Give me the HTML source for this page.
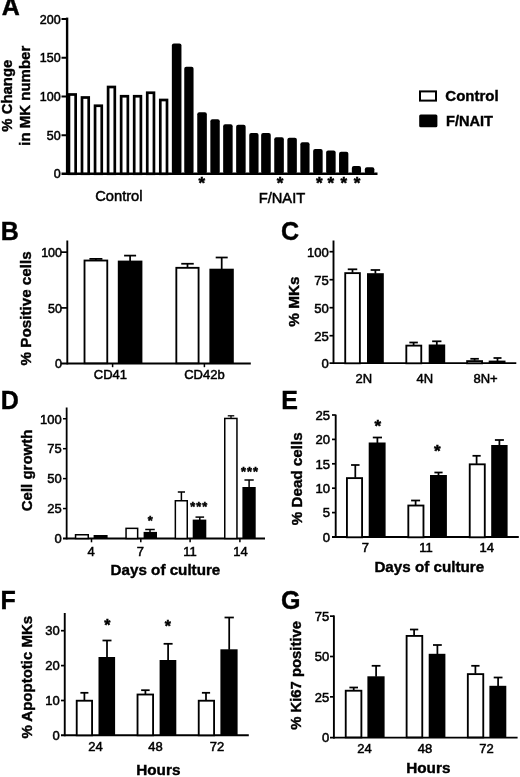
<!DOCTYPE html>
<html lang="en"><head><meta charset="utf-8"><title>Figure</title>
<style>
html,body{margin:0;padding:0;background:#fff;}
body{width:520px;height:777px;overflow:hidden;}
svg{display:block;}
svg text{font-family:"Liberation Sans", Arial, Helvetica, sans-serif;fill:#000;}
</style></head><body>
<svg width="520" height="777" viewBox="0 0 520 777">
<rect x="0" y="0" width="520" height="777" fill="#fff"/>
<text x="1.80" y="15.00" font-size="25" font-weight="bold" text-anchor="start" stroke="#000" stroke-width="0.4" >A</text>
<text x="0.70" y="240.00" font-size="25" font-weight="bold" text-anchor="start" stroke="#000" stroke-width="0.4" >B</text>
<text x="281.00" y="240.20" font-size="25" font-weight="bold" text-anchor="start" stroke="#000" stroke-width="0.4" >C</text>
<text x="0.70" y="409.00" font-size="25" font-weight="bold" text-anchor="start" stroke="#000" stroke-width="0.4" >D</text>
<text x="281.20" y="408.80" font-size="25" font-weight="bold" text-anchor="start" stroke="#000" stroke-width="0.4" >E</text>
<text x="0.40" y="609.00" font-size="25" font-weight="bold" text-anchor="start" stroke="#000" stroke-width="0.4" >F</text>
<text x="281.00" y="609.20" font-size="25" font-weight="bold" text-anchor="start" stroke="#000" stroke-width="0.4" >G</text>
<line x1="67.10" y1="17.60" x2="67.10" y2="174.95" stroke="#000" stroke-width="2.4" stroke-linecap="butt"/>
<line x1="61.50" y1="173.75" x2="377.50" y2="173.75" stroke="#000" stroke-width="2.4" stroke-linecap="butt"/>
<line x1="61.50" y1="19.00" x2="67.10" y2="19.00" stroke="#000" stroke-width="2.0" stroke-linecap="butt"/>
<text x="60.70" y="23.60" font-size="12.5" font-weight="normal" text-anchor="end" stroke="#000" stroke-width="0.5" >200</text>
<line x1="61.50" y1="57.75" x2="67.10" y2="57.75" stroke="#000" stroke-width="2.0" stroke-linecap="butt"/>
<text x="60.70" y="62.35" font-size="12.5" font-weight="normal" text-anchor="end" stroke="#000" stroke-width="0.5" >150</text>
<line x1="61.50" y1="96.50" x2="67.10" y2="96.50" stroke="#000" stroke-width="2.0" stroke-linecap="butt"/>
<text x="60.70" y="101.10" font-size="12.5" font-weight="normal" text-anchor="end" stroke="#000" stroke-width="0.5" >100</text>
<line x1="61.50" y1="135.25" x2="67.10" y2="135.25" stroke="#000" stroke-width="2.0" stroke-linecap="butt"/>
<text x="60.70" y="139.85" font-size="12.5" font-weight="normal" text-anchor="end" stroke="#000" stroke-width="0.5" >50</text>
<text x="60.70" y="178.35" font-size="12.5" font-weight="normal" text-anchor="end" stroke="#000" stroke-width="0.5" >0</text>
<rect x="68.95" y="94.50" width="6.70" height="79.25" fill="#fff" stroke="#000" stroke-width="2.7"/>
<rect x="82.00" y="97.50" width="6.70" height="76.25" fill="#fff" stroke="#000" stroke-width="2.7"/>
<rect x="95.05" y="105.75" width="6.70" height="68.00" fill="#fff" stroke="#000" stroke-width="2.7"/>
<rect x="108.10" y="87.00" width="6.70" height="86.75" fill="#fff" stroke="#000" stroke-width="2.7"/>
<rect x="121.15" y="96.25" width="6.70" height="77.50" fill="#fff" stroke="#000" stroke-width="2.7"/>
<rect x="134.20" y="96.25" width="6.70" height="77.50" fill="#fff" stroke="#000" stroke-width="2.7"/>
<rect x="147.25" y="92.75" width="6.70" height="81.00" fill="#fff" stroke="#000" stroke-width="2.7"/>
<rect x="160.30" y="100.00" width="6.70" height="73.75" fill="#fff" stroke="#000" stroke-width="2.7"/>
<rect x="171.85" y="43.55" width="9.60" height="130.20" fill="#000" rx="2"/>
<rect x="184.25" y="66.80" width="9.30" height="106.95" fill="#000" rx="2"/>
<rect x="197.25" y="112.30" width="9.60" height="61.45" fill="#000" rx="2"/>
<rect x="210.35" y="119.30" width="9.40" height="54.45" fill="#000" rx="2"/>
<rect x="223.15" y="124.30" width="9.50" height="49.45" fill="#000" rx="2"/>
<rect x="236.15" y="124.80" width="9.50" height="48.95" fill="#000" rx="2"/>
<rect x="249.25" y="133.05" width="9.30" height="40.70" fill="#000" rx="2"/>
<rect x="261.15" y="133.05" width="9.60" height="40.70" fill="#000" rx="2"/>
<rect x="274.25" y="137.30" width="9.60" height="36.45" fill="#000" rx="2"/>
<rect x="287.35" y="137.80" width="9.50" height="35.95" fill="#000" rx="2"/>
<rect x="300.35" y="142.30" width="9.20" height="31.45" fill="#000" rx="2"/>
<rect x="313.15" y="149.05" width="9.50" height="24.70" fill="#000" rx="2"/>
<rect x="326.15" y="150.55" width="9.50" height="23.20" fill="#000" rx="2"/>
<rect x="339.05" y="151.80" width="9.30" height="21.95" fill="#000" rx="2"/>
<rect x="351.85" y="166.05" width="9.20" height="7.70" fill="#000" rx="2"/>
<rect x="364.85" y="167.30" width="9.50" height="6.45" fill="#000" rx="2"/>
<text x="201.30" y="189.36" font-size="17" font-weight="bold" text-anchor="middle" letter-spacing="-0.9" stroke="#000" stroke-width="0.5">*</text>
<text x="279.55" y="189.36" font-size="17" font-weight="bold" text-anchor="middle" letter-spacing="-0.9" stroke="#000" stroke-width="0.5">*</text>
<text x="318.85" y="189.36" font-size="17" font-weight="bold" text-anchor="middle" letter-spacing="-0.9" stroke="#000" stroke-width="0.5">*</text>
<text x="330.45" y="189.36" font-size="17" font-weight="bold" text-anchor="middle" letter-spacing="-0.9" stroke="#000" stroke-width="0.5">*</text>
<text x="343.45" y="189.36" font-size="17" font-weight="bold" text-anchor="middle" letter-spacing="-0.9" stroke="#000" stroke-width="0.5">*</text>
<text x="356.65" y="189.36" font-size="17" font-weight="bold" text-anchor="middle" letter-spacing="-0.9" stroke="#000" stroke-width="0.5">*</text>
<text x="95.20" y="201.30" font-size="14.7" font-weight="normal" text-anchor="start" stroke="#000" stroke-width="0.5" >Control</text>
<text x="258.70" y="203.30" font-size="14.7" font-weight="normal" text-anchor="start" stroke="#000" stroke-width="0.5" >F/NAIT</text>
<text transform="translate(12.20,95.70) rotate(-90)" font-size="14.9" font-weight="bold" text-anchor="middle" stroke="#000" stroke-width="0.4" xml:space="preserve">% Change</text>
<text transform="translate(30.30,95.70) rotate(-90)" font-size="15" font-weight="bold" text-anchor="middle" stroke="#000" stroke-width="0.4" xml:space="preserve">in MK number</text>
<rect x="420" y="91.4" width="16" height="9.2" fill="#fff" stroke="#000" stroke-width="2"/>
<rect x="419.2" y="114.4" width="18.2" height="12.8" fill="#000" rx="1.5"/>
<text x="445.30" y="100.60" font-size="15" font-weight="bold" text-anchor="start" stroke="#000" stroke-width="0.4" >Control</text>
<text x="446.00" y="126.30" font-size="14.6" font-weight="bold" text-anchor="start" stroke="#000" stroke-width="0.4" >F/NAIT</text>
<line x1="67.30" y1="240.50" x2="67.30" y2="364.40" stroke="#000" stroke-width="1.9" stroke-linecap="butt"/>
<line x1="61.00" y1="363.45" x2="250.80" y2="363.45" stroke="#000" stroke-width="1.9" stroke-linecap="butt"/>
<line x1="61.00" y1="252.15" x2="67.30" y2="252.15" stroke="#000" stroke-width="1.7" stroke-linecap="butt"/>
<text x="62.00" y="256.75" font-size="12.5" font-weight="normal" text-anchor="end" stroke="#000" stroke-width="0.5" >100</text>
<line x1="61.00" y1="307.90" x2="67.30" y2="307.90" stroke="#000" stroke-width="1.7" stroke-linecap="butt"/>
<text x="62.00" y="312.50" font-size="12.5" font-weight="normal" text-anchor="end" stroke="#000" stroke-width="0.5" >50</text>
<text x="62.00" y="368.05" font-size="12.5" font-weight="normal" text-anchor="end" stroke="#000" stroke-width="0.5" >0</text>
<rect x="84.52" y="260.53" width="22.75" height="102.72" fill="#fff" stroke="#000" stroke-width="1.85"/>
<line x1="95.90" y1="258.90" x2="95.90" y2="260.10" stroke="#000" stroke-width="1.75" stroke-linecap="butt"/>
<line x1="89.40" y1="258.90" x2="102.40" y2="258.90" stroke="#000" stroke-width="1.75" stroke-linecap="butt"/>
<rect x="117.80" y="260.60" width="24.60" height="102.65" fill="#000" rx="0"/>
<line x1="130.10" y1="255.60" x2="130.10" y2="261.10" stroke="#000" stroke-width="1.75" stroke-linecap="butt"/>
<line x1="124.10" y1="255.60" x2="136.10" y2="255.60" stroke="#000" stroke-width="1.75" stroke-linecap="butt"/>
<rect x="176.33" y="267.82" width="22.25" height="95.43" fill="#fff" stroke="#000" stroke-width="1.85"/>
<line x1="187.50" y1="263.75" x2="187.50" y2="267.40" stroke="#000" stroke-width="1.75" stroke-linecap="butt"/>
<line x1="181.25" y1="263.75" x2="193.75" y2="263.75" stroke="#000" stroke-width="1.75" stroke-linecap="butt"/>
<rect x="209.40" y="268.70" width="24.40" height="94.55" fill="#000" rx="0"/>
<line x1="221.70" y1="257.50" x2="221.70" y2="269.20" stroke="#000" stroke-width="1.75" stroke-linecap="butt"/>
<line x1="215.70" y1="257.50" x2="227.70" y2="257.50" stroke="#000" stroke-width="1.75" stroke-linecap="butt"/>
<line x1="112.60" y1="363.25" x2="112.60" y2="367.20" stroke="#000" stroke-width="1.5" stroke-linecap="butt"/>
<line x1="204.40" y1="363.25" x2="204.40" y2="367.20" stroke="#000" stroke-width="1.5" stroke-linecap="butt"/>
<text x="110.40" y="379.20" font-size="13" font-weight="normal" text-anchor="middle" stroke="#000" stroke-width="0.5" >CD41</text>
<text x="204.40" y="378.80" font-size="13" font-weight="normal" text-anchor="middle" stroke="#000" stroke-width="0.5" >CD42b</text>
<text transform="translate(30.50,308.40) rotate(-90)" font-size="15.2" font-weight="bold" text-anchor="middle" stroke="#000" stroke-width="0.4" xml:space="preserve">% Positive cells</text>
<line x1="333.50" y1="240.50" x2="333.50" y2="364.05" stroke="#000" stroke-width="1.9" stroke-linecap="butt"/>
<line x1="329.50" y1="363.10" x2="516.30" y2="363.10" stroke="#000" stroke-width="1.9" stroke-linecap="butt"/>
<line x1="329.50" y1="251.70" x2="333.50" y2="251.70" stroke="#000" stroke-width="1.7" stroke-linecap="butt"/>
<text x="328.80" y="256.52" font-size="13.1" font-weight="normal" text-anchor="end" stroke="#000" stroke-width="0.5" >100</text>
<line x1="329.50" y1="279.70" x2="333.50" y2="279.70" stroke="#000" stroke-width="1.7" stroke-linecap="butt"/>
<text x="328.80" y="284.52" font-size="13.1" font-weight="normal" text-anchor="end" stroke="#000" stroke-width="0.5" >75</text>
<line x1="329.50" y1="307.70" x2="333.50" y2="307.70" stroke="#000" stroke-width="1.7" stroke-linecap="butt"/>
<text x="328.80" y="312.52" font-size="13.1" font-weight="normal" text-anchor="end" stroke="#000" stroke-width="0.5" >50</text>
<line x1="329.50" y1="335.70" x2="333.50" y2="335.70" stroke="#000" stroke-width="1.7" stroke-linecap="butt"/>
<text x="328.80" y="340.52" font-size="13.1" font-weight="normal" text-anchor="end" stroke="#000" stroke-width="0.5" >25</text>
<text x="328.80" y="367.92" font-size="13.1" font-weight="normal" text-anchor="end" stroke="#000" stroke-width="0.5" >0</text>
<rect x="345.23" y="273.12" width="14.65" height="90.18" fill="#fff" stroke="#000" stroke-width="1.85"/>
<line x1="352.50" y1="269.30" x2="352.50" y2="272.70" stroke="#000" stroke-width="1.75" stroke-linecap="butt"/>
<line x1="347.75" y1="269.30" x2="357.25" y2="269.30" stroke="#000" stroke-width="1.75" stroke-linecap="butt"/>
<rect x="367.00" y="273.20" width="16.80" height="90.10" fill="#000" rx="0"/>
<line x1="375.40" y1="270.00" x2="375.40" y2="273.70" stroke="#000" stroke-width="1.75" stroke-linecap="butt"/>
<line x1="370.65" y1="270.00" x2="380.15" y2="270.00" stroke="#000" stroke-width="1.75" stroke-linecap="butt"/>
<rect x="406.32" y="345.62" width="14.95" height="17.68" fill="#fff" stroke="#000" stroke-width="1.85"/>
<line x1="413.60" y1="342.50" x2="413.60" y2="345.20" stroke="#000" stroke-width="1.75" stroke-linecap="butt"/>
<line x1="409.35" y1="342.50" x2="417.85" y2="342.50" stroke="#000" stroke-width="1.75" stroke-linecap="butt"/>
<rect x="428.70" y="344.50" width="16.50" height="18.80" fill="#000" rx="0"/>
<line x1="436.80" y1="341.30" x2="436.80" y2="345.00" stroke="#000" stroke-width="1.75" stroke-linecap="butt"/>
<line x1="432.15" y1="341.30" x2="441.45" y2="341.30" stroke="#000" stroke-width="1.75" stroke-linecap="butt"/>
<rect x="467.12" y="361.12" width="14.95" height="2.18" fill="#fff" stroke="#000" stroke-width="1.85"/>
<line x1="474.60" y1="358.80" x2="474.60" y2="360.70" stroke="#000" stroke-width="1.75" stroke-linecap="butt"/>
<line x1="470.35" y1="358.80" x2="478.85" y2="358.80" stroke="#000" stroke-width="1.75" stroke-linecap="butt"/>
<rect x="488.70" y="360.60" width="16.80" height="2.70" fill="#000" rx="0"/>
<line x1="497.50" y1="358.00" x2="497.50" y2="361.10" stroke="#000" stroke-width="1.75" stroke-linecap="butt"/>
<line x1="493.50" y1="358.00" x2="501.50" y2="358.00" stroke="#000" stroke-width="1.75" stroke-linecap="butt"/>
<text x="363.90" y="383.20" font-size="13" font-weight="normal" text-anchor="middle" stroke="#000" stroke-width="0.5" >2N</text>
<text x="424.80" y="382.60" font-size="13" font-weight="normal" text-anchor="middle" stroke="#000" stroke-width="0.5" >4N</text>
<text x="485.60" y="382.60" font-size="13" font-weight="normal" text-anchor="middle" stroke="#000" stroke-width="0.5" >8N+</text>
<text transform="translate(299.20,301.60) rotate(-90)" font-size="15.3" font-weight="bold" text-anchor="middle" stroke="#000" stroke-width="0.4" xml:space="preserve">% MKs</text>
<line x1="66.65" y1="407.50" x2="66.65" y2="539.40" stroke="#000" stroke-width="1.8" stroke-linecap="butt"/>
<line x1="63.00" y1="538.50" x2="265.00" y2="538.50" stroke="#000" stroke-width="1.8" stroke-linecap="butt"/>
<line x1="63.00" y1="418.75" x2="66.65" y2="418.75" stroke="#000" stroke-width="1.5" stroke-linecap="butt"/>
<text x="61.80" y="423.53" font-size="13" font-weight="normal" text-anchor="end" stroke="#000" stroke-width="0.5" >100</text>
<line x1="63.00" y1="448.69" x2="66.65" y2="448.69" stroke="#000" stroke-width="1.5" stroke-linecap="butt"/>
<text x="61.80" y="453.47" font-size="13" font-weight="normal" text-anchor="end" stroke="#000" stroke-width="0.5" >75</text>
<line x1="63.00" y1="478.62" x2="66.65" y2="478.62" stroke="#000" stroke-width="1.5" stroke-linecap="butt"/>
<text x="61.80" y="483.41" font-size="13" font-weight="normal" text-anchor="end" stroke="#000" stroke-width="0.5" >50</text>
<line x1="63.00" y1="508.56" x2="66.65" y2="508.56" stroke="#000" stroke-width="1.5" stroke-linecap="butt"/>
<text x="61.80" y="513.34" font-size="13" font-weight="normal" text-anchor="end" stroke="#000" stroke-width="0.5" >25</text>
<text x="61.80" y="543.28" font-size="13" font-weight="normal" text-anchor="end" stroke="#000" stroke-width="0.5" >0</text>
<rect x="75.55" y="534.75" width="12.70" height="3.75" fill="#fff" stroke="#000" stroke-width="1.5"/>
<rect x="93.60" y="535.00" width="14.00" height="3.50" fill="#000" rx="0"/>
<rect x="126.05" y="528.35" width="11.60" height="10.15" fill="#fff" stroke="#000" stroke-width="1.5"/>
<rect x="143.60" y="531.90" width="13.40" height="6.60" fill="#000" rx="0"/>
<line x1="150.00" y1="529.50" x2="150.00" y2="532.40" stroke="#000" stroke-width="1.5" stroke-linecap="butt"/>
<line x1="145.25" y1="529.50" x2="154.75" y2="529.50" stroke="#000" stroke-width="1.5" stroke-linecap="butt"/>
<rect x="175.35" y="500.75" width="11.90" height="37.75" fill="#fff" stroke="#000" stroke-width="1.5"/>
<line x1="181.40" y1="492.00" x2="181.40" y2="500.50" stroke="#000" stroke-width="1.5" stroke-linecap="butt"/>
<line x1="177.80" y1="492.00" x2="185.00" y2="492.00" stroke="#000" stroke-width="1.5" stroke-linecap="butt"/>
<rect x="192.70" y="519.60" width="13.60" height="18.90" fill="#000" rx="0"/>
<line x1="199.80" y1="517.10" x2="199.80" y2="520.10" stroke="#000" stroke-width="1.5" stroke-linecap="butt"/>
<line x1="195.50" y1="517.10" x2="204.10" y2="517.10" stroke="#000" stroke-width="1.5" stroke-linecap="butt"/>
<rect x="224.75" y="418.45" width="12.20" height="120.05" fill="#fff" stroke="#000" stroke-width="1.5"/>
<line x1="231.00" y1="415.80" x2="231.00" y2="418.20" stroke="#000" stroke-width="1.3" stroke-linecap="butt"/>
<line x1="227.75" y1="415.80" x2="234.25" y2="415.80" stroke="#000" stroke-width="1.3" stroke-linecap="butt"/>
<rect x="242.40" y="487.00" width="13.30" height="51.50" fill="#000" rx="0"/>
<line x1="249.10" y1="480.00" x2="249.10" y2="487.50" stroke="#000" stroke-width="1.5" stroke-linecap="butt"/>
<line x1="244.45" y1="480.00" x2="253.75" y2="480.00" stroke="#000" stroke-width="1.5" stroke-linecap="butt"/>
<line x1="91.50" y1="538.50" x2="91.50" y2="542.30" stroke="#000" stroke-width="1.5" stroke-linecap="butt"/>
<line x1="140.80" y1="538.50" x2="140.80" y2="542.30" stroke="#000" stroke-width="1.5" stroke-linecap="butt"/>
<line x1="190.10" y1="538.50" x2="190.10" y2="542.30" stroke="#000" stroke-width="1.5" stroke-linecap="butt"/>
<line x1="239.90" y1="538.50" x2="239.90" y2="542.30" stroke="#000" stroke-width="1.5" stroke-linecap="butt"/>
<text x="91.00" y="556.30" font-size="13" font-weight="normal" text-anchor="middle" stroke="#000" stroke-width="0.5" >4</text>
<text x="140.40" y="556.30" font-size="13" font-weight="normal" text-anchor="middle" stroke="#000" stroke-width="0.5" >7</text>
<text x="190.00" y="556.30" font-size="13" font-weight="normal" text-anchor="middle" stroke="#000" stroke-width="0.5" >11</text>
<text x="240.40" y="556.30" font-size="13" font-weight="normal" text-anchor="middle" stroke="#000" stroke-width="0.5" >14</text>
<text x="149.85" y="525.06" font-size="12.8" font-weight="bold" text-anchor="middle" letter-spacing="-0.9" stroke="#000" stroke-width="0.5">*</text>
<text x="199.20" y="511.16" font-size="12.8" font-weight="bold" text-anchor="middle" letter-spacing="1.0" stroke="#000" stroke-width="0.5">***</text>
<text x="250.10" y="475.76" font-size="12.8" font-weight="bold" text-anchor="middle" letter-spacing="1.0" stroke="#000" stroke-width="0.5">***</text>
<text x="110.60" y="574.50" font-size="15.2" font-weight="bold" text-anchor="start" stroke="#000" stroke-width="0.4" >Days of culture</text>
<text transform="translate(31.80,470.40) rotate(-90)" font-size="15" font-weight="bold" text-anchor="middle" stroke="#000" stroke-width="0.4" xml:space="preserve">Cell growth</text>
<line x1="335.70" y1="414.60" x2="335.70" y2="537.95" stroke="#000" stroke-width="1.9" stroke-linecap="butt"/>
<line x1="332.00" y1="537.00" x2="518.80" y2="537.00" stroke="#000" stroke-width="1.9" stroke-linecap="butt"/>
<line x1="332.00" y1="415.00" x2="335.70" y2="415.00" stroke="#000" stroke-width="1.7" stroke-linecap="butt"/>
<text x="330.00" y="419.82" font-size="13.1" font-weight="normal" text-anchor="end" stroke="#000" stroke-width="0.5" >25</text>
<line x1="332.00" y1="439.40" x2="335.70" y2="439.40" stroke="#000" stroke-width="1.7" stroke-linecap="butt"/>
<text x="330.00" y="444.22" font-size="13.1" font-weight="normal" text-anchor="end" stroke="#000" stroke-width="0.5" >20</text>
<line x1="332.00" y1="463.80" x2="335.70" y2="463.80" stroke="#000" stroke-width="1.7" stroke-linecap="butt"/>
<text x="330.00" y="468.62" font-size="13.1" font-weight="normal" text-anchor="end" stroke="#000" stroke-width="0.5" >15</text>
<line x1="332.00" y1="488.20" x2="335.70" y2="488.20" stroke="#000" stroke-width="1.7" stroke-linecap="butt"/>
<text x="330.00" y="493.02" font-size="13.1" font-weight="normal" text-anchor="end" stroke="#000" stroke-width="0.5" >10</text>
<line x1="332.00" y1="512.60" x2="335.70" y2="512.60" stroke="#000" stroke-width="1.7" stroke-linecap="butt"/>
<text x="330.00" y="517.42" font-size="13.1" font-weight="normal" text-anchor="end" stroke="#000" stroke-width="0.5" >5</text>
<text x="330.00" y="541.82" font-size="13.1" font-weight="normal" text-anchor="end" stroke="#000" stroke-width="0.5" >0</text>
<rect x="346.93" y="478.12" width="15.15" height="59.17" fill="#fff" stroke="#000" stroke-width="1.85"/>
<line x1="355.30" y1="465.00" x2="355.30" y2="477.70" stroke="#000" stroke-width="1.75" stroke-linecap="butt"/>
<line x1="351.05" y1="465.00" x2="359.55" y2="465.00" stroke="#000" stroke-width="1.75" stroke-linecap="butt"/>
<rect x="368.70" y="442.50" width="16.90" height="94.80" fill="#000" rx="0"/>
<line x1="377.40" y1="437.50" x2="377.40" y2="443.00" stroke="#000" stroke-width="1.75" stroke-linecap="butt"/>
<line x1="372.80" y1="437.50" x2="382.00" y2="437.50" stroke="#000" stroke-width="1.75" stroke-linecap="butt"/>
<rect x="408.32" y="505.53" width="15.15" height="31.77" fill="#fff" stroke="#000" stroke-width="1.85"/>
<line x1="415.60" y1="500.50" x2="415.60" y2="505.10" stroke="#000" stroke-width="1.75" stroke-linecap="butt"/>
<line x1="411.10" y1="500.50" x2="420.10" y2="500.50" stroke="#000" stroke-width="1.75" stroke-linecap="butt"/>
<rect x="430.00" y="475.00" width="16.90" height="62.30" fill="#000" rx="0"/>
<line x1="438.50" y1="472.50" x2="438.50" y2="475.50" stroke="#000" stroke-width="1.75" stroke-linecap="butt"/>
<line x1="434.40" y1="472.50" x2="442.60" y2="472.50" stroke="#000" stroke-width="1.75" stroke-linecap="butt"/>
<rect x="469.73" y="464.32" width="15.05" height="72.97" fill="#fff" stroke="#000" stroke-width="1.85"/>
<line x1="476.60" y1="455.80" x2="476.60" y2="463.90" stroke="#000" stroke-width="1.75" stroke-linecap="butt"/>
<line x1="472.50" y1="455.80" x2="480.70" y2="455.80" stroke="#000" stroke-width="1.75" stroke-linecap="butt"/>
<rect x="491.20" y="445.00" width="16.40" height="92.30" fill="#000" rx="0"/>
<line x1="499.40" y1="440.00" x2="499.40" y2="445.50" stroke="#000" stroke-width="1.75" stroke-linecap="butt"/>
<line x1="494.90" y1="440.00" x2="503.90" y2="440.00" stroke="#000" stroke-width="1.75" stroke-linecap="butt"/>
<text x="377.35" y="431.91" font-size="17" font-weight="bold" text-anchor="middle" letter-spacing="-0.9" stroke="#000" stroke-width="0.5">*</text>
<text x="436.75" y="456.51" font-size="17" font-weight="bold" text-anchor="middle" letter-spacing="-0.9" stroke="#000" stroke-width="0.5">*</text>
<text x="365.40" y="552.20" font-size="13" font-weight="normal" text-anchor="middle" stroke="#000" stroke-width="0.5" >7</text>
<text x="426.00" y="552.40" font-size="13" font-weight="normal" text-anchor="middle" stroke="#000" stroke-width="0.5" >11</text>
<text x="486.80" y="552.40" font-size="13" font-weight="normal" text-anchor="middle" stroke="#000" stroke-width="0.5" >14</text>
<text x="374.40" y="572.30" font-size="15.2" font-weight="bold" text-anchor="start" stroke="#000" stroke-width="0.4" >Days of culture</text>
<text transform="translate(301.60,478.80) rotate(-90)" font-size="15.2" font-weight="bold" text-anchor="middle" stroke="#000" stroke-width="0.4" xml:space="preserve">% Dead cells</text>
<line x1="64.75" y1="613.00" x2="64.75" y2="736.25" stroke="#000" stroke-width="1.9" stroke-linecap="butt"/>
<line x1="61.00" y1="735.30" x2="248.80" y2="735.30" stroke="#000" stroke-width="1.9" stroke-linecap="butt"/>
<line x1="61.00" y1="630.70" x2="64.75" y2="630.70" stroke="#000" stroke-width="1.7" stroke-linecap="butt"/>
<text x="59.80" y="635.48" font-size="13" font-weight="normal" text-anchor="end" stroke="#000" stroke-width="0.5" >30</text>
<line x1="61.00" y1="665.60" x2="64.75" y2="665.60" stroke="#000" stroke-width="1.7" stroke-linecap="butt"/>
<text x="59.80" y="670.38" font-size="13" font-weight="normal" text-anchor="end" stroke="#000" stroke-width="0.5" >20</text>
<line x1="61.00" y1="700.50" x2="64.75" y2="700.50" stroke="#000" stroke-width="1.7" stroke-linecap="butt"/>
<text x="59.80" y="705.28" font-size="13" font-weight="normal" text-anchor="end" stroke="#000" stroke-width="0.5" >10</text>
<text x="59.80" y="740.08" font-size="13" font-weight="normal" text-anchor="end" stroke="#000" stroke-width="0.5" >0</text>
<rect x="76.72" y="700.72" width="15.35" height="34.58" fill="#fff" stroke="#000" stroke-width="1.85"/>
<line x1="84.40" y1="692.80" x2="84.40" y2="700.30" stroke="#000" stroke-width="1.75" stroke-linecap="butt"/>
<line x1="80.40" y1="692.80" x2="88.40" y2="692.80" stroke="#000" stroke-width="1.75" stroke-linecap="butt"/>
<rect x="98.50" y="657.00" width="16.60" height="78.30" fill="#000" rx="0"/>
<line x1="107.00" y1="640.50" x2="107.00" y2="657.50" stroke="#000" stroke-width="1.75" stroke-linecap="butt"/>
<line x1="102.50" y1="640.50" x2="111.50" y2="640.50" stroke="#000" stroke-width="1.75" stroke-linecap="butt"/>
<rect x="137.53" y="694.52" width="15.55" height="40.77" fill="#fff" stroke="#000" stroke-width="1.85"/>
<line x1="145.40" y1="690.20" x2="145.40" y2="694.10" stroke="#000" stroke-width="1.75" stroke-linecap="butt"/>
<line x1="141.15" y1="690.20" x2="149.65" y2="690.20" stroke="#000" stroke-width="1.75" stroke-linecap="butt"/>
<rect x="159.60" y="660.00" width="16.70" height="75.30" fill="#000" rx="0"/>
<line x1="168.10" y1="643.80" x2="168.10" y2="660.50" stroke="#000" stroke-width="1.75" stroke-linecap="butt"/>
<line x1="163.60" y1="643.80" x2="172.60" y2="643.80" stroke="#000" stroke-width="1.75" stroke-linecap="butt"/>
<rect x="198.73" y="700.72" width="15.35" height="34.58" fill="#fff" stroke="#000" stroke-width="1.85"/>
<line x1="206.00" y1="692.80" x2="206.00" y2="700.30" stroke="#000" stroke-width="1.75" stroke-linecap="butt"/>
<line x1="201.90" y1="692.80" x2="210.10" y2="692.80" stroke="#000" stroke-width="1.75" stroke-linecap="butt"/>
<rect x="220.40" y="649.30" width="17.20" height="86.00" fill="#000" rx="0"/>
<line x1="229.20" y1="617.50" x2="229.20" y2="649.80" stroke="#000" stroke-width="1.75" stroke-linecap="butt"/>
<line x1="224.55" y1="617.50" x2="233.85" y2="617.50" stroke="#000" stroke-width="1.75" stroke-linecap="butt"/>
<text x="106.95" y="630.60" font-size="15.8" font-weight="bold" text-anchor="middle" letter-spacing="-0.9" stroke="#000" stroke-width="0.5">*</text>
<text x="167.25" y="631.70" font-size="15.8" font-weight="bold" text-anchor="middle" letter-spacing="-0.9" stroke="#000" stroke-width="0.5">*</text>
<text x="95.40" y="750.80" font-size="13" font-weight="normal" text-anchor="middle" stroke="#000" stroke-width="0.5" >24</text>
<text x="155.60" y="750.80" font-size="13" font-weight="normal" text-anchor="middle" stroke="#000" stroke-width="0.5" >48</text>
<text x="216.90" y="750.80" font-size="13" font-weight="normal" text-anchor="middle" stroke="#000" stroke-width="0.5" >72</text>
<text x="136.20" y="775.00" font-size="15.3" font-weight="bold" text-anchor="start" stroke="#000" stroke-width="0.4" >Hours</text>
<text transform="translate(31.80,677.20) rotate(-90)" font-size="15" font-weight="bold" text-anchor="middle" stroke="#000" stroke-width="0.4" xml:space="preserve">% Apoptotic MKs</text>
<line x1="333.90" y1="615.40" x2="333.90" y2="738.60" stroke="#000" stroke-width="1.9" stroke-linecap="butt"/>
<line x1="330.00" y1="737.65" x2="517.60" y2="737.65" stroke="#000" stroke-width="1.9" stroke-linecap="butt"/>
<line x1="330.00" y1="616.15" x2="333.90" y2="616.15" stroke="#000" stroke-width="1.7" stroke-linecap="butt"/>
<text x="329.30" y="620.93" font-size="13" font-weight="normal" text-anchor="end" stroke="#000" stroke-width="0.5" >75</text>
<line x1="330.00" y1="656.50" x2="333.90" y2="656.50" stroke="#000" stroke-width="1.7" stroke-linecap="butt"/>
<text x="329.30" y="661.28" font-size="13" font-weight="normal" text-anchor="end" stroke="#000" stroke-width="0.5" >50</text>
<line x1="330.00" y1="696.85" x2="333.90" y2="696.85" stroke="#000" stroke-width="1.7" stroke-linecap="butt"/>
<text x="329.30" y="701.63" font-size="13" font-weight="normal" text-anchor="end" stroke="#000" stroke-width="0.5" >25</text>
<text x="329.30" y="742.43" font-size="13" font-weight="normal" text-anchor="end" stroke="#000" stroke-width="0.5" >0</text>
<rect x="345.73" y="690.72" width="15.65" height="46.68" fill="#fff" stroke="#000" stroke-width="1.85"/>
<line x1="353.70" y1="687.50" x2="353.70" y2="690.30" stroke="#000" stroke-width="1.75" stroke-linecap="butt"/>
<line x1="349.40" y1="687.50" x2="358.00" y2="687.50" stroke="#000" stroke-width="1.75" stroke-linecap="butt"/>
<rect x="367.40" y="676.30" width="17.20" height="61.10" fill="#000" rx="0"/>
<line x1="376.10" y1="665.80" x2="376.10" y2="676.80" stroke="#000" stroke-width="1.75" stroke-linecap="butt"/>
<line x1="371.70" y1="665.80" x2="380.50" y2="665.80" stroke="#000" stroke-width="1.75" stroke-linecap="butt"/>
<rect x="406.62" y="635.92" width="15.65" height="101.47" fill="#fff" stroke="#000" stroke-width="1.85"/>
<line x1="414.10" y1="629.50" x2="414.10" y2="635.50" stroke="#000" stroke-width="1.75" stroke-linecap="butt"/>
<line x1="409.95" y1="629.50" x2="418.25" y2="629.50" stroke="#000" stroke-width="1.75" stroke-linecap="butt"/>
<rect x="428.70" y="653.80" width="16.70" height="83.60" fill="#000" rx="0"/>
<line x1="437.40" y1="645.00" x2="437.40" y2="654.30" stroke="#000" stroke-width="1.75" stroke-linecap="butt"/>
<line x1="433.00" y1="645.00" x2="441.80" y2="645.00" stroke="#000" stroke-width="1.75" stroke-linecap="butt"/>
<rect x="467.82" y="674.12" width="15.45" height="63.27" fill="#fff" stroke="#000" stroke-width="1.85"/>
<line x1="475.40" y1="665.80" x2="475.40" y2="673.70" stroke="#000" stroke-width="1.75" stroke-linecap="butt"/>
<line x1="471.25" y1="665.80" x2="479.55" y2="665.80" stroke="#000" stroke-width="1.75" stroke-linecap="butt"/>
<rect x="489.40" y="685.80" width="16.90" height="51.60" fill="#000" rx="0"/>
<line x1="498.10" y1="677.50" x2="498.10" y2="686.30" stroke="#000" stroke-width="1.75" stroke-linecap="butt"/>
<line x1="493.70" y1="677.50" x2="502.50" y2="677.50" stroke="#000" stroke-width="1.75" stroke-linecap="butt"/>
<text x="364.60" y="753.30" font-size="13" font-weight="normal" text-anchor="middle" stroke="#000" stroke-width="0.5" >24</text>
<text x="425.10" y="753.30" font-size="13" font-weight="normal" text-anchor="middle" stroke="#000" stroke-width="0.5" >48</text>
<text x="486.60" y="753.30" font-size="13" font-weight="normal" text-anchor="middle" stroke="#000" stroke-width="0.5" >72</text>
<text x="406.20" y="773.40" font-size="15.3" font-weight="bold" text-anchor="start" stroke="#000" stroke-width="0.4" >Hours</text>
<text transform="translate(301.30,675.40) rotate(-90)" font-size="14.85" font-weight="bold" text-anchor="middle" stroke="#000" stroke-width="0.4" xml:space="preserve">% Ki67 positive</text>
</svg>
</body></html>
